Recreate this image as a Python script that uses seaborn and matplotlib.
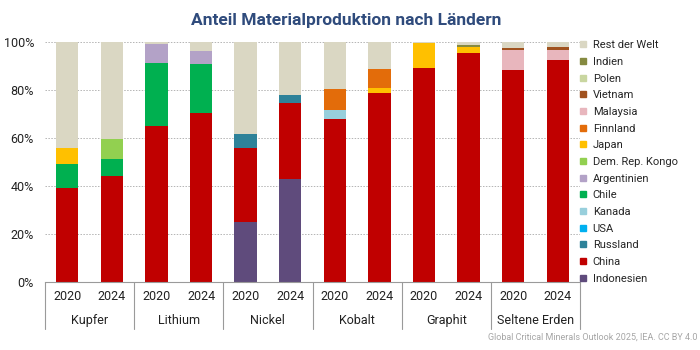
import numpy as np
import pandas as pd
import matplotlib.pyplot as plt
import matplotlib.transforms as mtransforms
from matplotlib.lines import Line2D
import seaborn as sns

# ===========================================================
#                  DATA (in %)
# ===========================================================

minerals = ["Kupfer", "Lithium", "Nickel", "Kobalt", "Graphit", "Seltene Erden"]
years = ["2020", "2024"]

# one value per bar: Kupfer 20/24, Lithium 20/24, Nickel 20/24,
# Kobalt 20/24, Graphit 20/24, Seltene Erden 20/24
indonesien = [0, 0, 0, 0, 25.1, 42.9, 0, 0, 0, 0, 0, 0]
china = [39.4, 44.2, 65.0, 70.4, 30.6, 31.5, 67.9, 78.6, 89.0, 95.4, 88.5, 92.5]
russland = [0, 0, 0, 0, 6.0, 3.5, 0, 0, 0, 0, 0, 0]
usa = [0, 0, 0, 0, 0, 0, 0, 0, 0, 0, 0, 0]
kanada = [0, 0, 0, 0, 0, 0, 3.9, 0, 0, 0, 0, 0]
chile = [9.8, 7.2, 26.1, 20.4, 0, 0, 0, 0, 0, 0, 0, 0]
argentinien = [0, 0, 7.9, 5.4, 0, 0, 0, 0, 0, 0, 0, 0]
kongo = [0, 8.2, 0, 0, 0, 0, 0, 0, 0, 0, 0, 0]
japan = [6.5, 0, 0, 0, 0, 0, 0, 2.4, 10.4, 2.5, 0, 0]
finnland = [0, 0, 0, 0, 0, 0, 8.5, 7.9, 0, 0, 0, 0]
malaysia = [0, 0, 0, 0, 0, 0, 0, 0, 0, 0, 8.0, 4.3]
vietnam = [0, 0, 0, 0, 0, 0, 0, 0, 0, 0, 0.9, 1.1]
polen = [0, 0, 0, 0, 0, 0, 0, 0, 0, 0, 0, 0]
indien = [0, 0, 0, 0, 0, 0, 0, 0, 0, 0.8, 0, 0]
rest = [44.3, 40.4, 1.0, 3.8, 38.3, 22.1, 19.7, 11.1, 0.6, 1.3, 2.6, 2.1]

# stacking order, bottom -> top
countries = ["Indonesien", "China", "Russland", "USA", "Kanada", "Chile",
             "Argentinien", "Dem. Rep. Kongo", "Japan", "Finnland",
             "Malaysia", "Vietnam", "Polen", "Indien", "Rest der Welt"]
series = [indonesien, china, russland, usa, kanada, chile, argentinien,
          kongo, japan, finnland, malaysia, vietnam, polen, indien, rest]
colors = ["#5f4b7c", "#c00000", "#2e8299", "#00b0f0", "#98cfdc", "#00b050",
          "#b3a2c7", "#92d050", "#ffc000", "#e36c0a", "#e8b6bd", "#a0521f",
          "#c9d6a0", "#858a40", "#dad7c3"]

bars = [f"{m}|{y}" for m in minerals for y in years]

# ===========================================================
#                  PLOT
# ===========================================================

sns.set_theme(style="white")
plt.rcParams["font.family"] = ["Roboto", "DejaVu Sans"]

fig = plt.figure(figsize=(7, 3.5), dpi=100)
ax = fig.add_axes([0.0643, 0.194, 0.7643, 0.686])

bottom = np.zeros(len(bars))
for name, vals, col in zip(countries, series, colors):
    vals = np.array(vals, dtype=float)
    sns.barplot(x=bars, y=vals, bottom=bottom, color=col, width=0.5,
                order=bars, ax=ax, saturation=1, linewidth=0)
    bottom += vals

ax.set_xlim(-0.5, len(bars) - 0.5)
ax.set_ylim(0, 100)
ax.set_yticks(np.arange(0, 101, 20))
ax.set_yticklabels([f"{v}%" for v in range(0, 101, 20)], fontsize=9, color="#222222")
ax.set_xticks(range(len(bars)))
ax.set_xticklabels([y for m in minerals for y in years], fontsize=9, color="#222222")
ax.tick_params(axis="both", length=0)
ax.tick_params(axis="x", pad=6)
ax.tick_params(axis="y", pad=8)
ax.set_xlabel("")
ax.set_ylabel("")

ax.grid(axis="y", color="#b4b4b4", linestyle=(0, (1.5, 1.5)), linewidth=0.7)
ax.set_axisbelow(True)
for s in ["top", "right", "left"]:
    ax.spines[s].set_visible(False)
ax.spines["bottom"].set_color("#9a9a9a")
ax.spines["bottom"].set_linewidth(0.8)

# group separators and mineral names
trans = mtransforms.blended_transform_factory(ax.transData, ax.transAxes)
for i in range(len(minerals) + 1):
    ax.plot([i * 2 - 0.5, i * 2 - 0.5], [0, -0.196], transform=trans,
            color="#9a9a9a", linewidth=0.8, clip_on=False)
for i, m in enumerate(minerals):
    ax.text(i * 2 + 0.5, -0.16, m, transform=trans, ha="center", va="center",
            fontsize=9, color="#222222")

# legend, top entry = last stacked series
handles = [Line2D([0], [0], marker="s", linestyle="", markersize=5,
                  markerfacecolor=c, markeredgecolor=c)
           for c in colors[::-1]]
fig.legend(handles, countries[::-1], loc="upper left",
           bbox_to_anchor=(0.826, 0.885), frameon=False, fontsize=8,
           handlelength=0.8, handletextpad=0.5, labelspacing=0.6,
           borderaxespad=0, borderpad=0)

fig.text(0.495, 0.94, "Anteil Materialproduktion nach Ländern", ha="center",
         va="center", fontsize=12.5, fontweight="bold", color="#2f4b7c")
fig.text(0.996, 0.037, "Global Critical Minerals Outlook 2025, IEA. CC BY 4.0",
         ha="right", va="center", fontsize=6.5, color="#a6a6a6")

fig.savefig("out.png", dpi=100)
